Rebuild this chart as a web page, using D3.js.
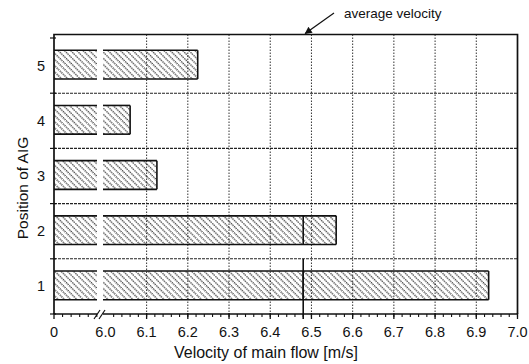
<!DOCTYPE html>
<html>
<head>
<meta charset="utf-8">
<script src="https://cdn.jsdelivr.net/npm/d3@7"></script>
<style>
  body { margin: 0; background: #fff; }
  text { font-family: "Liberation Sans", Arial, sans-serif; fill: #111; }
</style>
</head>
<body>
<script>
// data
var positions = [5, 4, 3, 2, 1];
var velocities = [6.224, 6.06, 6.125, 6.56, 6.93];
var averageVelocity = 6.48;
var majorTicks = [6.0, 6.1, 6.2, 6.3, 6.4, 6.5, 6.6, 6.7, 6.8, 6.9, 7.0];
var tickLabels = ["6.0", "6.1", "6.2", "6.3", "6.4", "6.5", "6.6", "6.7", "6.8", "6.9", "7.0"];
var gridValues = [6.1, 6.2, 6.3, 6.4, 6.5, 6.6, 6.7, 6.8, 6.9];
var brokenTicks = [1, 2, 3, 4, 5];

var width = 529, height = 364;
var plotLeft = 54, plotRight = 517.5, plotTop = 34.5, plotBottom = 314;

var svg = d3.select("body").append("svg")
    .attr("width", width)
    .attr("height", height);

// broken axis: 0..6.0 squeezed, 6.0..7.0 linear
var x = d3.scaleLinear()
    .domain([0, 6.0, 7.0])
    .range([plotLeft, 105.4, plotRight]);

var y = d3.scaleBand()
    .domain(positions)
    .range([38, plotBottom]);

var breakL = 97, breakR = 103;

// hatch pattern
var defs = svg.append("defs");
var pat = defs.append("pattern")
    .attr("id", "hatch")
    .attr("patternUnits", "userSpaceOnUse")
    .attr("width", 4.4)
    .attr("height", 4.4)
    .attr("patternTransform", "rotate(-45)");
pat.append("line")
    .attr("x1", 1).attr("y1", 0)
    .attr("x2", 1).attr("y2", 4.4)
    .attr("stroke", "#111")
    .attr("stroke-width", 1.1)
    .attr("stroke-dasharray", "1.4,0.8");

// vertical grid
svg.append("g").selectAll("line")
    .data(gridValues)
    .enter().append("line")
      .attr("x1", function(d) { return x(d); })
      .attr("x2", function(d) { return x(d); })
      .attr("y1", plotTop)
      .attr("y2", plotBottom)
      .attr("stroke", "#333")
      .attr("stroke-width", 1)
      .attr("stroke-dasharray", "1.5,1.5");

// horizontal boundaries between positions
var bounds = positions.slice(1).map(function(d) { return y(d); });
svg.append("g").selectAll("line")
    .data(bounds)
    .enter().append("line")
      .attr("x1", plotLeft)
      .attr("x2", plotRight)
      .attr("y1", function(d) { return d; })
      .attr("y2", function(d) { return d; })
      .attr("stroke", "#222")
      .attr("stroke-width", 1.1)
      .attr("stroke-dasharray", "3,1");

// bars
var barH = y.bandwidth() * 0.52;
var bars = svg.append("g").selectAll("g")
    .data(positions.map(function(p, i) { return {pos: p, v: velocities[i]}; }))
    .enter().append("g");

function barTop(d) { return y(d.pos) + (y.bandwidth() - barH) / 2 - 1; }

bars.append("rect")
    .attr("x", x(0))
    .attr("y", barTop)
    .attr("width", function(d) { return x(d.v) - x(0); })
    .attr("height", barH)
    .attr("fill", "url(#hatch)");

// break gap in bars
bars.append("rect")
    .attr("x", breakL)
    .attr("y", function(d) { return barTop(d) - 2; })
    .attr("width", breakR - breakL)
    .attr("height", barH + 4)
    .attr("fill", "#fff");

var outline = function(sel, x1, x2, yf) {
  sel.append("line")
    .attr("x1", x1).attr("x2", x2)
    .attr("y1", yf).attr("y2", yf)
    .attr("stroke", "#111").attr("stroke-width", 1.6);
};
bars.each(function(d) {
  var g = d3.select(this);
  var t = barTop(d), b = barTop(d) + barH;
  outline(g, x(0), breakL, t);
  outline(g, x(0), breakL, b);
  outline(g, breakR, x(d.v), t);
  outline(g, breakR, x(d.v), b);
  g.append("line")
    .attr("x1", x(d.v)).attr("x2", x(d.v))
    .attr("y1", t).attr("y2", b)
    .attr("stroke", "#111").attr("stroke-width", 1.6);
  if (d.v > averageVelocity) {
    g.append("line")
      .attr("x1", x(averageVelocity)).attr("x2", x(averageVelocity))
      .attr("y1", t).attr("y2", b)
      .attr("stroke", "#111").attr("stroke-width", 1.6);
  }
});

// average velocity line through the lowest row
svg.append("line")
    .attr("x1", x(averageVelocity)).attr("x2", x(averageVelocity))
    .attr("y1", y(1)).attr("y2", plotBottom + 5)
    .attr("stroke", "#111")
    .attr("stroke-width", 1.6);

// frame: left, top and right
svg.append("path")
    .attr("d", "M" + plotLeft + "," + plotBottom + "V" + plotTop + "H" + plotRight + "V" + plotBottom)
    .attr("fill", "none")
    .attr("stroke", "#111")
    .attr("stroke-width", 1.7);

svg.append("g").selectAll("line")
    .data(bounds.concat([plotBottom, 38]))
    .enter().append("line")
      .attr("x1", plotLeft - 4).attr("x2", plotLeft + 2)
      .attr("y1", function(d) { return d; })
      .attr("y2", function(d) { return d; })
      .attr("stroke", "#111").attr("stroke-width", 1.2);
svg.append("g").selectAll("text")
    .data(positions)
    .enter().append("text")
      .attr("x", 41)
      .attr("y", function(d) { return y(d) + y.bandwidth() / 2 + 5; })
      .attr("text-anchor", "middle")
      .attr("font-size", "14.5px")
      .text(function(d) { return d; });

svg.append("text")
    .attr("transform", "translate(28," + 188 + ") rotate(-90)")
    .attr("text-anchor", "middle")
    .attr("font-size", "15.5px")
    .text("Position of AIG");

// x axis
svg.append("line")
    .attr("x1", plotLeft).attr("x2", breakL)
    .attr("y1", plotBottom).attr("y2", plotBottom)
    .attr("stroke", "#111").attr("stroke-width", 1.6);
svg.append("line")
    .attr("x1", breakR).attr("x2", plotRight)
    .attr("y1", plotBottom).attr("y2", plotBottom)
    .attr("stroke", "#111").attr("stroke-width", 1.6);

var minor = d3.range(6.02, 7.0, 0.02);
svg.append("g").selectAll("line")
    .data(minor.concat(brokenTicks))
    .enter().append("line")
      .attr("x1", function(d) { return x(d); })
      .attr("x2", function(d) { return x(d); })
      .attr("y1", plotBottom).attr("y2", plotBottom + 3)
      .attr("stroke", "#111").attr("stroke-width", 1.1);
svg.append("g").selectAll("line")
    .data([0].concat(majorTicks.slice(1)))
    .enter().append("line")
      .attr("x1", function(d) { return x(d); })
      .attr("x2", function(d) { return x(d); })
      .attr("y1", plotBottom - 1).attr("y2", plotBottom + 5)
      .attr("stroke", "#111").attr("stroke-width", 1.3);

// break marks
[0, 5].forEach(function(dx) {
  svg.append("line")
    .attr("x1", 94 + dx).attr("y1", plotBottom + 5)
    .attr("x2", 100 + dx).attr("y2", plotBottom - 4)
    .attr("stroke", "#111").attr("stroke-width", 1.2);
});

svg.append("g").selectAll("text")
    .data(["0"].concat(tickLabels))
    .enter().append("text")
      .attr("x", function(d, i) { return i === 0 ? x(0) : x(majorTicks[i - 1]); })
      .attr("y", 337)
      .attr("text-anchor", "middle")
      .attr("font-size", "14.5px")
      .text(function(d) { return d; });

svg.append("text")
    .attr("x", 266)
    .attr("y", 358)
    .attr("text-anchor", "middle")
    .attr("font-size", "16px")
    .text("Velocity of main flow [m/s]");

// annotation
defs.append("marker")
    .attr("id", "arrow")
    .attr("viewBox", "0 0 10 10")
    .attr("refX", 9).attr("refY", 5)
    .attr("markerWidth", 8).attr("markerHeight", 6)
    .attr("orient", "auto")
  .append("path")
    .attr("d", "M0,0 L10,5 L0,10 z")
    .attr("fill", "#111");
svg.append("line")
    .attr("x1", 334).attr("y1", 13)
    .attr("x2", x(averageVelocity) + 2).attr("y2", plotTop - 1)
    .attr("stroke", "#111").attr("stroke-width", 1.2)
    .attr("marker-end", "url(#arrow)");
svg.append("text")
    .attr("x", 344)
    .attr("y", 18)
    .attr("font-size", "13.5px")
    .text("average velocity");
</script>
</body>
</html>
